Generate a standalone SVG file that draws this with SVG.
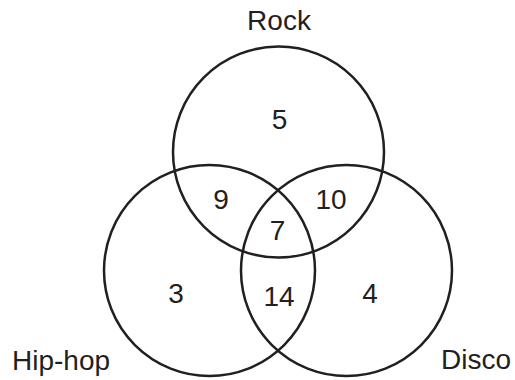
<svg xmlns="http://www.w3.org/2000/svg" width="515" height="380" viewBox="0 0 515 380">
<style>
.c{fill:none;stroke:#231f20;stroke-width:2.5}
.t{font-family:"Liberation Sans",Arial,sans-serif;font-size:28px;fill:#231f20;text-anchor:middle}
.l{font-family:"Liberation Sans",Arial,sans-serif;font-size:28px;fill:#231f20}
</style>
<rect width="515" height="380" fill="#fff"/>
<g id="rock"><circle class="c" cx="278.5" cy="152" r="105.5"/><text class="t" x="279" y="29.5">Rock</text></g>
<g id="hiphop"><circle class="c" cx="209.5" cy="270.5" r="105.5"/><text class="l" x="12" y="369.5">Hip-hop</text></g>
<g id="disco"><circle class="c" cx="346.5" cy="270.5" r="105.5"/><text class="l" x="441" y="368.5">Disco</text></g>
<g id="counts">
<text class="t" x="279.5" y="129">5</text>
<text class="t" x="221" y="209">9</text>
<text class="t" x="331" y="209">10</text>
<text class="t" x="277.5" y="240">7</text>
<text class="t" x="176" y="303">3</text>
<text class="t" x="279" y="306">14</text>
<text class="t" x="370" y="303">4</text>
</g>
</svg>
